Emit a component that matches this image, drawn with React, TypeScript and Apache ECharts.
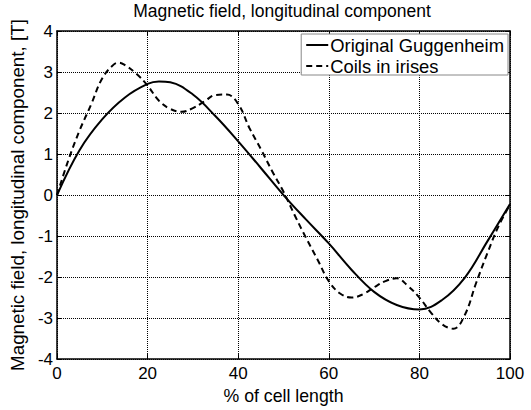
import React, { useEffect, useRef } from "react";
import * as echarts from "echarts";

const titleText = "Magnetic field, longitudinal component";
const xName = "% of cell length";
const yName = "Magnetic field, longitudinal component, [T]";
const seriesNames = ["Original Guggenheim", "Coils in irises"];

const solidX = [0, 5, 10, 15, 20, 22.5, 25, 30, 35, 40, 45, 50, 55, 60, 65, 70, 75, 80, 85, 90, 95, 100];
const solidY = [0, 1.1, 1.85, 2.38, 2.71, 2.77, 2.75, 2.45, 1.92, 1.31, 0.66, 0.0, -0.6, -1.18, -1.82, -2.36, -2.68, -2.79, -2.56, -2.02, -1.13, -0.22];

const dashX = [0, 2.5, 5, 7.5, 10, 12.5, 13.6, 15, 17.5, 20, 22.5, 25, 27.5, 30, 32.5, 35, 37.5, 40, 42.5, 45, 47.5, 50, 52.5, 55, 57.5, 60, 62.5, 65, 67.5, 70, 72.5, 75, 77.5, 80, 82.5, 85, 87.5, 90, 92.5, 95, 97.5, 100];
const dashY = [0, 0.85, 1.58, 2.2, 2.85, 3.18, 3.23, 3.17, 2.96, 2.67, 2.3, 2.1, 2.03, 2.12, 2.28, 2.44, 2.45, 2.22, 1.63, 1.12, 0.58, 0.08, -0.5, -1.05, -1.57, -2.1, -2.4, -2.5, -2.42, -2.25, -2.1, -2.03, -2.22, -2.5, -2.86, -3.15, -3.26, -2.93, -2.15, -1.42, -0.75, -0.24];

const FONT = "'Liberation Sans', Arial, Helvetica, sans-serif";

export default function App() {
  const ref = useRef<HTMLDivElement>(null);
  useEffect(() => {
    if (!ref.current) return;
    const chart = echarts.init(ref.current, undefined, { renderer: "svg" });
    const axisLine = { show: true, onZero: false, lineStyle: { color: "#000", width: 1.5 } };
    const tick = { show: true, inside: true, length: 5, lineStyle: { color: "#000", width: 1 } };
    const grid = { show: true, lineStyle: { color: "#000", width: 1, type: [1, 1] as any } };
    chart.setOption({
      animation: false,
      backgroundColor: "#fff",
      textStyle: { fontFamily: FONT, color: "#000" },
      title: {
        text: titleText,
        left: 282,
        textAlign: "center",
        top: 2,
        padding: 0,
        textStyle: { fontFamily: FONT, fontSize: 17.5, fontWeight: "normal", color: "#000" },
      },
      legend: {
        orient: "vertical",
        right: 23,
        top: 34,
        padding: [2, 4, 0, 4],
        itemGap: 3,
        itemWidth: 22,
        itemHeight: 10,
        backgroundColor: "#fff",
        borderColor: "#888",
        borderWidth: 1,
        borderRadius: 0,
        itemStyle: { opacity: 0 },
        textStyle: { fontFamily: FONT, fontSize: 18.4, color: "#000", padding: [0, 0, 0, -3] },
        data: seriesNames,
      },
      grid: { left: 53, top: 31, right: 21, bottom: 46, containLabel: false },
      xAxis: [
        {
          type: "value",
          min: 0,
          max: 100,
          interval: 20,
          name: xName,
          nameLocation: "middle",
          nameGap: 25,
          nameTextStyle: { fontFamily: FONT, fontSize: 17.7, color: "#000" },
          axisLine,
          axisTick: tick,
          axisLabel: { margin: 6, fontFamily: FONT, fontSize: 17, color: "#000" },
          splitLine: grid,
        },
        {
          type: "value",
          position: "top",
          min: 0,
          max: 100,
          interval: 20,
          axisLine,
          axisTick: tick,
          axisLabel: { show: false },
          splitLine: { show: false },
        },
      ],
      yAxis: [
        {
          type: "value",
          min: -4,
          max: 4,
          interval: 1,
          name: yName,
          nameLocation: "middle",
          nameGap: 23,
          nameTextStyle: { fontFamily: FONT, fontSize: 18.8, color: "#000" },
          axisLine,
          axisTick: tick,
          axisLabel: { margin: 4, fontFamily: FONT, fontSize: 17, color: "#000" },
          splitLine: grid,
        },
        {
          type: "value",
          position: "right",
          min: -4,
          max: 4,
          interval: 1,
          axisLine,
          axisTick: tick,
          axisLabel: { show: false },
          splitLine: { show: false },
        },
      ],
      series: [
        {
          name: seriesNames[0],
          type: "line",
          data: solidX.map((x, i) => [x, solidY[i]]),
          smooth: 0.4,
          symbol: "none",
          lineStyle: { color: "#000", width: 2, type: "solid" },
          itemStyle: { color: "#000" },
          z: 3,
        },
        {
          name: seriesNames[1],
          type: "line",
          data: dashX.map((x, i) => [x, dashY[i]]),
          smooth: 0.4,
          symbol: "none",
          lineStyle: { color: "#000", width: 2, type: [6, 4] },
          itemStyle: { color: "#000" },
          z: 3,
        },
      ],
    });
    return () => chart.dispose();
  }, []);
  return (
    <div
      ref={ref}
      style={{ position: "fixed", left: 0, top: 0, width: 531, height: 410, background: "#fff" }}
    />
  );
}
